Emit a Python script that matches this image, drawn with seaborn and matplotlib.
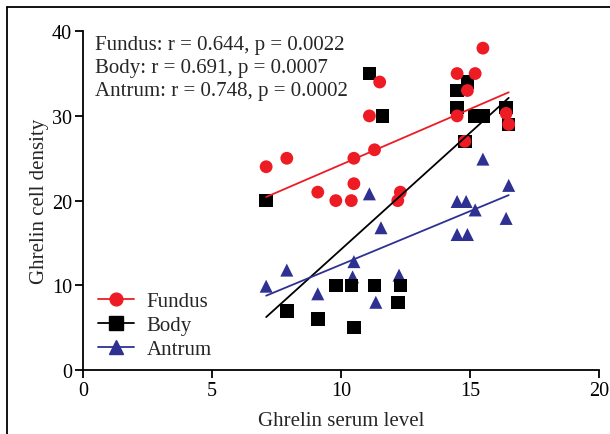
import matplotlib
matplotlib.use("Agg")
import matplotlib.pyplot as plt
import seaborn as sns
from matplotlib.lines import Line2D

# ---- data ----
fundus_x = [7.1, 7.9, 9.1, 9.8, 10.4, 10.5, 10.5, 11.1, 11.3, 11.5, 12.2, 12.3,
            14.5, 14.5, 14.8, 14.9, 15.2, 15.5, 16.4, 16.5]
fundus_y = [24, 25, 21, 20, 20, 22, 25, 30, 26, 34, 20, 21,
            35, 30, 27, 33, 35, 38, 30.3, 29]

body_x = [7.1, 7.9, 9.1, 9.8, 10.4, 10.5, 11.1, 11.3, 11.6, 12.2, 12.3,
          14.5, 14.5, 14.8, 14.9, 15.2, 15.5, 16.4, 16.5]
body_y = [20, 7, 6, 10, 10, 5, 35, 10, 30, 8, 10,
          33, 31, 27, 34, 30, 30, 31, 29]

antrum_x = [7.1, 7.9, 9.1, 10.45, 10.5, 11.1, 11.35, 11.55, 12.25,
            14.5, 14.5, 14.85, 14.9, 15.2, 15.5, 16.4, 16.5]
antrum_y = [9.9, 11.8, 9, 11, 12.8, 20.8, 8, 16.8, 11.2,
            19.9, 16, 19.9, 16, 18.9, 24.9, 17.9, 21.8]

series_names = ["Fundus", "Body", "Antrum"]
stats_text = ["Fundus: r = 0.644, p = 0.0022",
              "Body: r = 0.691, p = 0.0007",
              "Antrum: r = 0.748, p = 0.0002"]
x_ticks = [0, 5, 10, 15, 20]
y_ticks = [0, 10, 20, 30, 40]

RED = "#ED1C24"
BLACK = "#000000"
BLUE = "#2E3192"

sns.set_style("ticks")
plt.rcParams["font.family"] = ["Liberation Serif", "DejaVu Serif"]

FS = 15

fig = plt.figure(figsize=(6.10, 4.35), dpi=100)
ax = fig.add_axes([0.136, 0.147, 0.846, 0.779])

sns.scatterplot(x=antrum_x, y=antrum_y, marker="^", color=BLUE, s=88,
                edgecolor="none", ax=ax, zorder=2)
sns.scatterplot(x=body_x, y=body_y, marker="s", color=BLACK, s=95,
                edgecolor="none", ax=ax, zorder=3)
sns.scatterplot(x=fundus_x, y=fundus_y, marker="o", color=RED, s=85,
                edgecolor="none", ax=ax, zorder=4)

for xs, ys, c in [(fundus_x, fundus_y, RED), (body_x, body_y, BLACK),
                  (antrum_x, antrum_y, BLUE)]:
    sns.regplot(x=xs, y=ys, scatter=False, ci=None, color=c, truncate=True,
                line_kws={"lw": 1.3, "zorder": 5}, ax=ax)

ax.set_xlim(0, 20)
ax.set_ylim(0, 40)
ax.set_xticks(x_ticks)
ax.set_yticks(y_ticks)
ax.tick_params(axis="both", labelsize=14.5, length=6, width=1.3, color="black",
               labelcolor="black", direction="out", pad=2)
for s in ["left", "bottom"]:
    ax.spines[s].set_linewidth(1.3)
    ax.spines[s].set_color("black")
sns.despine(ax=ax)

ax.set_xlabel("Ghrelin serum level", fontsize=FS, labelpad=8)
ax.set_ylabel("Ghrelin cell density", fontsize=FS, labelpad=2)

ax.text(0.023, 0.99, "\n".join(stats_text), transform=ax.transAxes,
        ha="left", va="top", fontsize=FS, linespacing=1.3)

handles = [
    Line2D([0], [0], color=RED, marker="o", markersize=9.2, lw=1.3),
    Line2D([0], [0], color=BLACK, marker="s", markersize=9.5, lw=1.3),
    Line2D([0], [0], color=BLUE, marker="^", markersize=9.5, lw=1.3),
]
ax.legend(handles, series_names, loc="upper left",
          bbox_to_anchor=(0.0, 0.275), frameon=False, fontsize=FS,
          handlelength=1.75, handletextpad=0.6, labelspacing=0.22,
          borderaxespad=0.3)

# outer figure frame (left and top edges visible)
fig.add_artist(Line2D([0.0115, 0.0115], [0.0, 0.9816], transform=fig.transFigure,
                      color="black", lw=1.3))
fig.add_artist(Line2D([0.0115, 1.0], [0.9816, 0.9816], transform=fig.transFigure,
                      color="black", lw=1.3))

fig.savefig("out.png", dpi=100)
